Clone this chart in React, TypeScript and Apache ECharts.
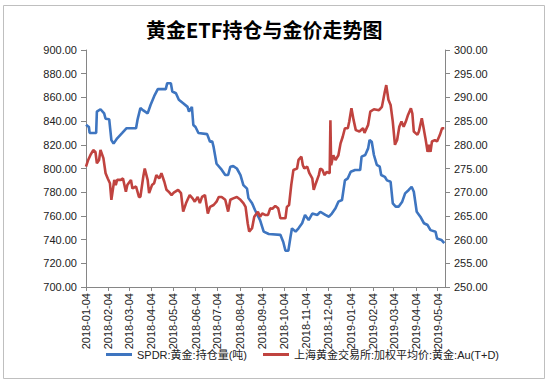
import React, { useEffect, useRef } from "react";
import * as echarts from "echarts";

const titleText = "黄金ETF持仓与金价走势图";
const seriesNames = ["SPDR:黄金:持仓量(吨)", "上海黄金交易所:加权平均价:黄金:Au(T+D)"];

const xTickLabels = [
  "2018-01-04", "2018-02-04", "2018-03-04", "2018-04-04", "2018-05-04", "2018-06-04",
  "2018-07-04", "2018-08-04", "2018-09-04", "2018-10-04", "2018-11-04", "2018-12-04",
  "2019-01-04", "2019-02-04", "2019-03-04", "2019-04-04", "2019-05-04",
];

const spdrDates = [
  "2018-01-04", "2018-01-08", "2018-01-09", "2018-01-18", "2018-01-19", "2018-01-24", "2018-01-29", "2018-01-31",
  "2018-02-05", "2018-02-08", "2018-02-11", "2018-02-16", "2018-02-23", "2018-03-01", "2018-03-14", "2018-03-16",
  "2018-03-20", "2018-03-24", "2018-03-30", "2018-04-03", "2018-04-08", "2018-04-13", "2018-04-24", "2018-04-26",
  "2018-05-01", "2018-05-03", "2018-05-08", "2018-05-12", "2018-05-18", "2018-05-24", "2018-05-26", "2018-05-30",
  "2018-06-01", "2018-06-04", "2018-06-08", "2018-06-20", "2018-06-24", "2018-06-27", "2018-06-29", "2018-07-03",
  "2018-07-10", "2018-07-15", "2018-07-19", "2018-07-22", "2018-07-26", "2018-07-31", "2018-08-05", "2018-08-09",
  "2018-08-14", "2018-08-16", "2018-08-21", "2018-08-25", "2018-09-01", "2018-09-06", "2018-09-13", "2018-09-29",
  "2018-10-03", "2018-10-06", "2018-10-10", "2018-10-13", "2018-10-15", "2018-10-20", "2018-10-24", "2018-10-29",
  "2018-11-02", "2018-11-07", "2018-11-12", "2018-11-19", "2018-11-23", "2018-11-30", "2018-12-05", "2018-12-09",
  "2018-12-14", "2018-12-18", "2018-12-23", "2018-12-27", "2018-12-31", "2019-01-04", "2019-01-10", "2019-01-17",
  "2019-01-19", "2019-01-24", "2019-01-28", "2019-01-30", "2019-02-02", "2019-02-05", "2019-02-09", "2019-02-13",
  "2019-02-15", "2019-02-20", "2019-02-23", "2019-02-28", "2019-03-03", "2019-03-07", "2019-03-11", "2019-03-16",
  "2019-03-20", "2019-03-25", "2019-03-29", "2019-04-01", "2019-04-05", "2019-04-10", "2019-04-15", "2019-04-20",
  "2019-04-24", "2019-05-01", "2019-05-03", "2019-05-09", "2019-05-13",
];
const spdrValues = [
  837, 835, 830, 830, 848, 850, 846.5, 842,
  841.5, 824, 821, 825.5, 830, 834, 834, 841,
  851, 849, 846.5, 853.6, 861, 867, 867, 872,
  872, 865, 863.5, 858, 855, 852, 848, 852,
  836.7, 835, 830, 829, 822.6, 823, 818, 804,
  799, 794.5, 794.5, 801.5, 802, 800, 794.5, 786,
  783, 775, 770.6, 765, 756.5, 746.7, 744.7, 744,
  738, 730.6, 730.6, 742.4, 749.5, 746.7, 749.5, 753.8,
  760.8, 756.5, 762, 760.8, 763.5, 760.8, 759.3, 762,
  766.4, 772, 773.4, 790, 791.7, 797.3, 798.7, 798.7,
  810, 811.4, 817, 824, 822.6, 811.4, 803, 801.5,
  794.5, 793, 790, 788.8, 770.6, 767.8, 767.8, 772,
  779, 781.9, 784.6, 780.4, 763.5, 759.3, 753.8, 752.3,
  748, 746.7, 741, 739.7, 737,
];

const sgeDates = [
  "2018-01-04", "2018-01-07", "2018-01-10", "2018-01-14", "2018-01-17", "2018-01-19", "2018-01-22", "2018-01-24",
  "2018-01-28", "2018-01-31", "2018-02-03", "2018-02-06", "2018-02-08", "2018-02-12", "2018-02-14", "2018-02-16",
  "2018-02-21", "2018-02-24", "2018-02-28", "2018-03-02", "2018-03-07", "2018-03-09", "2018-03-14", "2018-03-18",
  "2018-03-20", "2018-03-24", "2018-03-26", "2018-03-30", "2018-04-01", "2018-04-05", "2018-04-08", "2018-04-11",
  "2018-04-15", "2018-04-18", "2018-04-22", "2018-04-25", "2018-04-28", "2018-05-02", "2018-05-05", "2018-05-11",
  "2018-05-15", "2018-05-18", "2018-05-22", "2018-05-24", "2018-05-27", "2018-05-31", "2018-06-03", "2018-06-07",
  "2018-06-10", "2018-06-13", "2018-06-17", "2018-06-21", "2018-06-24", "2018-06-29", "2018-07-03", "2018-07-06",
  "2018-07-10", "2018-07-15", "2018-07-19", "2018-07-22", "2018-07-26", "2018-07-31", "2018-08-05", "2018-08-09",
  "2018-08-12", "2018-08-15", "2018-08-17", "2018-08-21", "2018-08-24", "2018-08-29", "2018-09-01", "2018-09-04",
  "2018-09-08", "2018-09-12", "2018-09-15", "2018-09-18", "2018-09-22", "2018-09-26", "2018-09-29", "2018-10-06",
  "2018-10-08", "2018-10-11", "2018-10-14", "2018-10-17", "2018-10-22", "2018-10-24", "2018-10-28", "2018-10-30",
  "2018-11-01", "2018-11-05", "2018-11-08", "2018-11-12", "2018-11-14", "2018-11-17", "2018-11-21", "2018-11-23",
  "2018-11-26", "2018-11-29", "2018-12-02", "2018-12-06", "2018-12-07", "2018-12-08", "2018-12-11", "2018-12-14",
  "2018-12-18", "2018-12-21", "2018-12-24", "2018-12-27", "2018-12-31", "2019-01-02", "2019-01-05", "2019-01-08",
  "2019-01-11", "2019-01-16", "2019-01-21", "2019-01-23", "2019-01-28", "2019-01-31", "2019-02-05", "2019-02-12",
  "2019-02-16", "2019-02-20", "2019-02-22", "2019-02-25", "2019-02-28", "2019-03-03", "2019-03-06", "2019-03-09",
  "2019-03-12", "2019-03-15", "2019-03-18", "2019-03-21", "2019-03-24", "2019-03-28", "2019-03-30", "2019-04-01",
  "2019-04-06", "2019-04-08", "2019-04-12", "2019-04-15", "2019-04-17", "2019-04-20", "2019-04-22", "2019-04-24",
  "2019-04-26", "2019-04-30", "2019-05-03", "2019-05-07", "2019-05-10", "2019-05-13",
];
const sgeValues = [
  275.4, 276.8, 277.8, 278.9, 278.5, 276.1, 276.8, 278.9,
  277.2, 274, 272.9, 271.9, 268.4, 272.6, 271.5, 272.6,
  272.6, 272.9, 270.1, 271.5, 272.6, 270.8, 271.2, 269,
  269, 273.3, 275, 272.6, 269.8, 271.5, 271.9, 273.6,
  272.9, 274, 272.2, 270.5, 270.1, 269.4, 269.9, 270.5,
  269.8, 265.9, 267.7, 268.4, 269.4, 268.7, 268, 269,
  267.7, 269, 269.4, 265.5, 266.9, 267.3, 268, 269,
  269, 268.4, 265.9, 268.4, 268.7, 269, 268.4, 267.7,
  266.9, 263.4, 261.7, 262.4, 264.8, 265.9, 264.8, 265.5,
  265.2, 265.2, 266.6, 266.5, 267.1, 266.6, 264.5, 264.5,
  266.9, 267.3, 271.5, 274.7, 275, 276.8, 277.5, 275.7,
  275, 275.4, 274, 272.9, 270.5, 271.9, 273.6, 275,
  274.7, 273.6, 274.3, 274, 285.2, 275.7, 277.8, 276.8,
  277.8, 280.3, 281.7, 283.5, 283.5, 284.9, 287.7, 285.2,
  283.1, 282.8, 283.5, 282.5, 284.2, 287, 287.5, 287.3,
  288, 291.2, 292.6, 289.5, 288.4, 284.9, 280, 281,
  283.8, 284.9, 283.8, 284.9, 286.3, 287.7, 286.6, 282.8,
  282.1, 282.8, 285.6, 283.1, 281.4, 278.5, 280, 278.5,
  280.7, 281, 280.7, 282.1, 283.5, 283.5,
];

const xMin = "2018-01-04";
const xMax = "2019-05-14";

const FONT = "'Liberation Sans', 'Noto Sans CJK SC', sans-serif";

const toTs = (s: string) => {
  const [y, m, d] = s.split("-").map(Number);
  return Date.UTC(y, m - 1, d);
};
const pad = (n: number) => (n < 10 ? "0" + n : "" + n);
const fmt = (v: number) => {
  const d = new Date(v);
  return d.getUTCFullYear() + "-" + pad(d.getUTCMonth() + 1) + "-" + pad(d.getUTCDate());
};

export default function App() {
  const ref = useRef<HTMLDivElement>(null);
  useEffect(() => {
    if (!ref.current) return;
    const chart = echarts.init(ref.current, undefined, { renderer: "svg" });
    const tickVals = xTickLabels.map(toTs);
    chart.setOption({
      animation: false,
      backgroundColor: "#ffffff",
      textStyle: { fontFamily: FONT },
      title: {
        text: titleText,
        left: 141,
        top: 14,
        textStyle: { fontSize: 20, fontWeight: "bold", color: "#000", fontFamily: "'Noto Sans CJK SC', sans-serif" },
      },
      graphic: [
        {
          type: "rect",
          shape: { x: 3.5, y: 5.5, width: 541, height: 373 },
          style: { fill: "none", stroke: "#bfbfbf", lineWidth: 1 },
          silent: true,
          z: -1,
        },
      ],
      legend: {
        left: 101,
        top: 344,
        itemWidth: 26,
        itemHeight: 3,
        itemGap: 16,
        icon: "rect",
        textStyle: { fontSize: 11, color: "#222", fontFamily: FONT },
        data: seriesNames,
      },
      grid: { left: 86, right: 105, top: 50, bottom: 95 },
      xAxis: {
        type: "value",
        min: toTs(xMin),
        max: toTs(xMax),
        splitLine: { show: false },
        axisLine: { lineStyle: { color: "#868686", width: 1 } },
        axisTick: { show: true, length: 4, lineStyle: { color: "#868686" }, customValues: tickVals },
        axisLabel: {
          customValues: tickVals,
          rotate: 90,
          fontSize: 11,
          color: "#222",
          margin: 6,
          fontFamily: FONT,
          formatter: (v: number) => fmt(v),
        },
      },
      yAxis: [
        {
          type: "value",
          min: 700,
          max: 900,
          interval: 20,
          position: "left",
          splitLine: { show: false },
          axisLine: { show: true, lineStyle: { color: "#868686" } },
          axisTick: { show: true, length: 5, lineStyle: { color: "#868686" } },
          axisLabel: { fontSize: 11, color: "#222", margin: 9, fontFamily: FONT, formatter: (v: number) => v.toFixed(2) },
        },
        {
          type: "value",
          min: 250,
          max: 300,
          interval: 5,
          position: "right",
          splitLine: { show: false },
          axisLine: { show: true, lineStyle: { color: "#868686" } },
          axisTick: { show: true, length: 5, lineStyle: { color: "#868686" } },
          axisLabel: { fontSize: 11, color: "#222", margin: 9, fontFamily: FONT, formatter: (v: number) => v.toFixed(2) },
        },
      ],
      series: [
        {
          name: seriesNames[0],
          type: "line",
          yAxisIndex: 0,
          showSymbol: false,
          symbol: "none",
          lineStyle: { color: "#3E75C0", width: 2.6 },
          itemStyle: { color: "#3E75C0" },
          data: spdrDates.map((d, i) => [toTs(d), spdrValues[i]]),
        },
        {
          name: seriesNames[1],
          type: "line",
          yAxisIndex: 1,
          showSymbol: false,
          symbol: "none",
          lineStyle: { color: "#C0433F", width: 2.6 },
          itemStyle: { color: "#C0433F" },
          data: sgeDates.map((d, i) => [toTs(d), sgeValues[i]]),
        },
      ],
    });
    return () => chart.dispose();
  }, []);
  return (
    <div
      ref={ref}
      style={{ position: "fixed", left: 0, top: 0, width: 550, height: 382, background: "#fff" }}
    />
  );
}
